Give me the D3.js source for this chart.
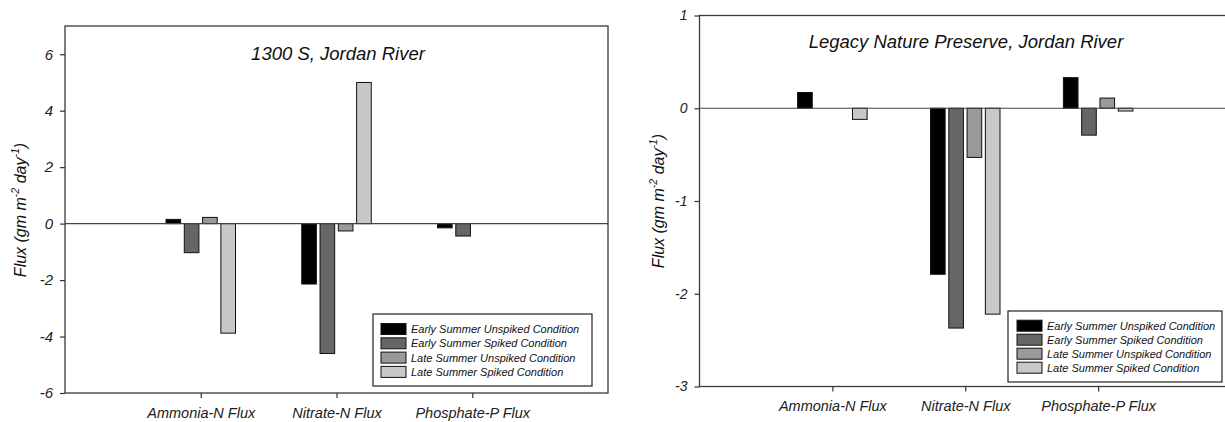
<!DOCTYPE html>
<html>
<head>
<meta charset="utf-8">
<script src="https://cdn.jsdelivr.net/npm/d3@7"></script>
<style>
  html, body { margin: 0; padding: 0; background: #fff; }
  text { font-family: "Liberation Sans", Arial, sans-serif; font-style: italic; }
</style>
</head>
<body>
<svg id="chart" width="1225" height="422"></svg>
<script>
// ---- Data ----
const categories = ["Ammonia-N Flux", "Nitrate-N Flux", "Phosphate-P Flux"];
const seriesNames = [
  "Early Summer Unspiked Condition",
  "Early Summer Spiked Condition",
  "Late Summer Unspiked Condition",
  "Late Summer Spiked Condition"
];
const seriesColors = ["#000000", "#666666", "#999999", "#c8c8c8"];

// 1300 S, Jordan River
const leftTitle = "1300 S, Jordan River";
const leftEarlyUnspiked = [0.15, -2.14, -0.15];
const leftEarlySpiked   = [-1.03, -4.60, -0.44];
const leftLateUnspiked  = [0.22, -0.26, 0];
const leftLateSpiked    = [-3.88, 5.00, 0];
const leftTicks = [-6, -4, -2, 0, 2, 4, 6];
const leftDomain = [-6, 7];

// Legacy Nature Preserve, Jordan River
const rightTitle = "Legacy Nature Preserve, Jordan River";
const rightEarlyUnspiked = [0.17, -1.79, 0.33];
const rightEarlySpiked   = [0, -2.37, -0.29];
const rightLateUnspiked  = [0, -0.53, 0.11];
const rightLateSpiked    = [-0.12, -2.22, -0.03];
const rightTicks = [-3, -2, -1, 0, 1];
const rightDomain = [-3, 1];

const svg = d3.select("#chart");
const fmtTick = d => String(d); // plain hyphen-minus, as in the original

function drawPanel(cfg) {
  const g = svg.append("g");
  const x = d3.scalePoint().domain(categories).range([cfg.left, cfg.right]).padding(1);
  const xs = d3.scaleBand().domain(seriesNames).range([-34.75, 34.75]).paddingInner(0.2).paddingOuter(0);
  const y = d3.scaleLinear().domain(cfg.domain).range([cfg.bottom, cfg.top]);

  // frame
  g.append("rect")
    .attr("x", cfg.left).attr("y", cfg.top)
    .attr("width", cfg.right - cfg.left).attr("height", cfg.bottom - cfg.top)
    .attr("fill", "none").attr("stroke", "#3a3a3a").attr("stroke-width", 1.3);

  // bars
  const rows = [];
  cfg.series.forEach((vals, si) => {
    vals.forEach((v, ci) => {
      if (v !== 0) rows.push({ s: seriesNames[si], c: categories[ci], v, color: seriesColors[si] });
    });
  });
  g.selectAll("rect.bar").data(rows).join("rect")
    .attr("class", "bar")
    .attr("x", d => x(d.c) + xs(d.s))
    .attr("width", xs.bandwidth())
    .attr("y", d => y(Math.max(0, d.v)))
    .attr("height", d => Math.abs(y(d.v) - y(0)))
    .attr("fill", d => d.color)
    .attr("stroke", "#111").attr("stroke-width", 1);

  // zero line
  g.append("line")
    .attr("x1", cfg.left).attr("x2", cfg.right)
    .attr("y1", y(0)).attr("y2", y(0))
    .attr("stroke", "#444").attr("stroke-width", 1.2);

  // y axis
  const yAxis = d3.axisLeft(y).tickValues(cfg.ticks).tickSize(5).tickPadding(7).tickFormat(fmtTick);
  const ya = g.append("g").attr("transform", `translate(${cfg.left},0)`).call(yAxis);
  ya.select(".domain").remove();
  ya.selectAll(".tick line").attr("stroke", "#333").attr("stroke-width", 1.2);
  ya.selectAll(".tick text").attr("font-size", cfg.tickFont).attr("fill", "#222")
    .style("font-family", '"Liberation Sans", Arial, sans-serif').style("font-style", "italic");

  // x axis
  const xAxis = d3.axisBottom(x).tickSize(5).tickPadding(cfg.xPad);
  const xa = g.append("g").attr("transform", `translate(0,${cfg.bottom})`).call(xAxis);
  xa.select(".domain").remove();
  xa.selectAll(".tick line").attr("stroke", "#333").attr("stroke-width", 1.2);
  xa.selectAll(".tick text").attr("font-size", 14.5).attr("fill", "#222")
    .style("font-family", '"Liberation Sans", Arial, sans-serif').style("font-style", "italic");

  // title
  g.append("text").attr("x", cfg.titleX).attr("y", cfg.titleY)
    .attr("text-anchor", "middle").attr("font-size", 18.5).attr("fill", "#111")
    .text(cfg.title);

  // y label
  const yl = g.append("text")
    .attr("transform", `translate(${cfg.ylabX},${cfg.ylabY}) rotate(-90)`)
    .attr("text-anchor", "middle").attr("font-size", 16).attr("fill", "#111");
  yl.append("tspan").text("Flux (gm m");
  yl.append("tspan").attr("dy", -7).attr("font-size", 10.5).text("-2");
  yl.append("tspan").attr("dy", 7).text(" day");
  yl.append("tspan").attr("dy", -7).attr("font-size", 10.5).text("-1");
  yl.append("tspan").attr("dy", 7).text(")");

  // legend
  const L = cfg.legend;
  const lg = g.append("g");
  lg.append("rect").attr("x", L.x0).attr("y", L.y0)
    .attr("width", L.x1 - L.x0).attr("height", L.y1 - L.y0)
    .attr("fill", "#fff").attr("stroke", "#222").attr("stroke-width", 1.2);
  seriesNames.forEach((name, i) => {
    const cy = L.firstY + i * L.step;
    lg.append("rect").attr("x", L.swX).attr("y", cy - 5.5)
      .attr("width", 25).attr("height", 11)
      .attr("fill", seriesColors[i]).attr("stroke", "#111").attr("stroke-width", 1);
    lg.append("text").attr("x", L.swX + 30).attr("y", cy + 4)
      .attr("font-size", 11).attr("fill", "#111").text(name);
  });
}

drawPanel({
  left: 65, right: 608, top: 26, bottom: 393,
  domain: leftDomain, ticks: leftTicks, tickFont: 15, xPad: 10,
  series: [leftEarlyUnspiked, leftEarlySpiked, leftLateUnspiked, leftLateSpiked],
  title: leftTitle, titleX: 338, titleY: 60,
  ylabX: 26, ylabY: 210,
  legend: { x0: 373, x1: 592, y0: 314, y1: 386, swX: 381, firstY: 329, step: 14.3 }
});

drawPanel({
  left: 699.5, right: 1231, top: 15.5, bottom: 386.5,
  domain: rightDomain, ticks: rightTicks, tickFont: 14, xPad: 9,
  series: [rightEarlyUnspiked, rightEarlySpiked, rightLateUnspiked, rightLateSpiked],
  title: rightTitle, titleX: 966, titleY: 48,
  ylabX: 664, ylabY: 201,
  legend: { x0: 1008, x1: 1222, y0: 311, y1: 382, swX: 1017, firstY: 325.7, step: 14 }
});
</script>
</body>
</html>
